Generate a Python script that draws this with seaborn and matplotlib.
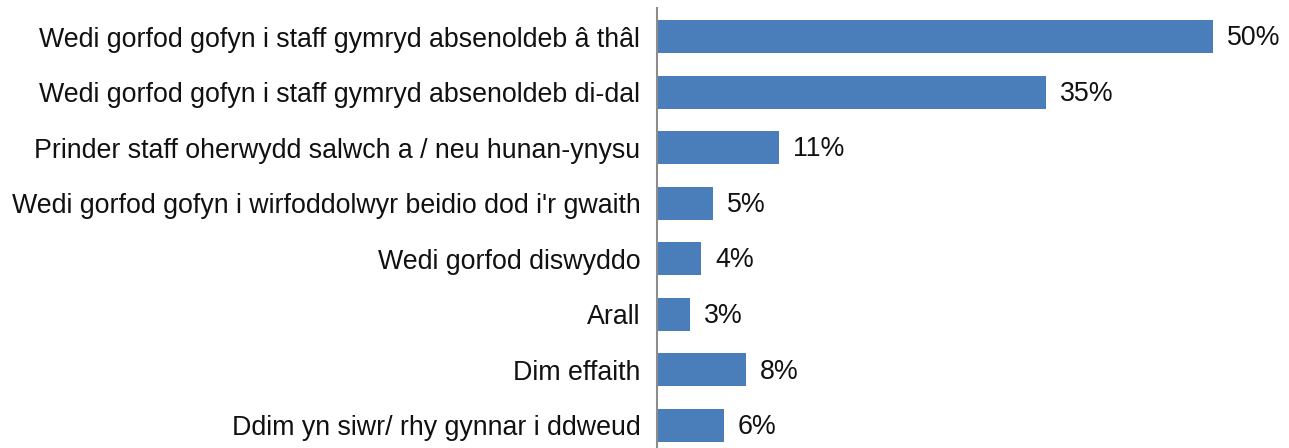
import matplotlib
matplotlib.use("Agg")
import matplotlib.pyplot as plt
import seaborn as sns
import pandas as pd

categories = [
    "Wedi gorfod gofyn i staff gymryd absenoldeb â thâl",
    "Wedi gorfod gofyn i staff gymryd absenoldeb di-dal",
    "Prinder staff oherwydd salwch a / neu hunan-ynysu",
    "Wedi gorfod gofyn i wirfoddolwyr beidio dod i'r gwaith",
    "Wedi gorfod diswyddo",
    "Arall",
    "Dim effaith",
    "Ddim yn siwr/ rhy gynnar i ddweud",
]
values = [50, 35, 11, 5, 4, 3, 8, 6]
labels = ["50%", "35%", "11%", "5%", "4%", "3%", "8%", "6%"]

sns.set_theme(style="white")
plt.rcParams["font.family"] = ["Liberation Sans", "DejaVu Sans"]

df = pd.DataFrame({"cat": categories, "val": values})

W, H = 1289, 448
fig = plt.figure(figsize=(W / 100, H / 100), dpi=100)
left, right, top, bottom = 657, 1285, 8, 448
ax = fig.add_axes([left / W, 1 - bottom / H, (right - left) / W, (bottom - top) / H])

sns.barplot(data=df, x="val", y="cat", orient="h", color="#4A7EBB",
            saturation=1, width=0.594, ax=ax, linewidth=0)

scale = (1212.5 - 657) / 50.0
ax.set_xlim(0, (right - left) / scale)
ax.set_ylim(7.405, -0.513)

for i, (v, lab) in enumerate(zip(values, labels)):
    ax.text(v + 14 / scale, i + 0.03, lab, va="center", ha="left", fontsize=19.3, color="#111111")

ax.set_xlabel("")
ax.set_ylabel("")
ax.set_xticks([])
ax.tick_params(axis="y", length=0, pad=12, labelsize=19.3, labelcolor="#111111")
for s in ["top", "right", "bottom"]:
    ax.spines[s].set_visible(False)
ax.spines["left"].set_color("#8c8c8c")
ax.spines["left"].set_linewidth(1.5)

fig.savefig("out.png", dpi=100)
